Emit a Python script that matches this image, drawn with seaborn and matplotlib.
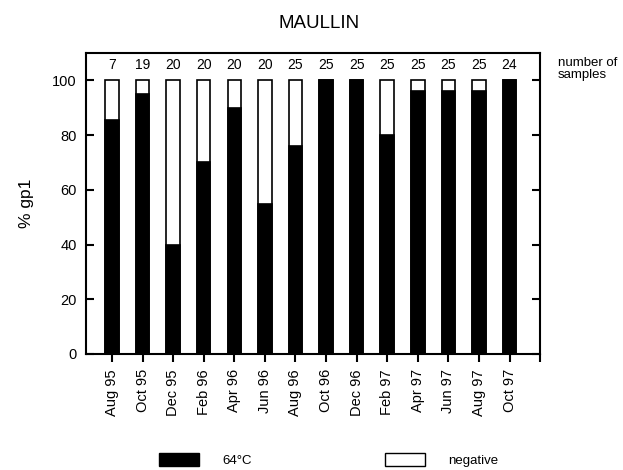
import matplotlib
matplotlib.use("Agg")
import matplotlib.pyplot as plt
import seaborn as sns
import pandas as pd
from matplotlib.patches import Patch

months = ["Aug 95", "Oct 95", "Dec 95", "Feb 96", "Apr 96", "Jun 96", "Aug 96",
          "Oct 96", "Dec 96", "Feb 97", "Apr 97", "Jun 97", "Aug 97", "Oct 97"]
pct_64c = [85.7, 95, 40, 70, 90, 55, 76, 100, 100, 80, 96, 96, 96, 100]
total = [100] * 14
n_samples = [7, 19, 20, 20, 20, 20, 25, 25, 25, 25, 25, 25, 25, 24]

df = pd.DataFrame({"month": months, "pos": pct_64c, "total": total, "n": n_samples})

sns.set_style("white")
plt.rcParams["font.family"] = ["Liberation Sans", "DejaVu Sans"]
plt.rcParams["text.color"] = "black"
plt.rcParams["axes.labelcolor"] = "black"
plt.rcParams["xtick.color"] = "black"
plt.rcParams["ytick.color"] = "black"

fig = plt.figure(figsize=(6.23, 4.70), dpi=100)
ax = fig.add_axes([0.138, 0.247, 0.729, 0.640])

sns.barplot(data=df, x="month", y="total", color="white", edgecolor="black",
            linewidth=1.2, width=0.44, ax=ax, saturation=1)
sns.barplot(data=df, x="month", y="pos", color="black", edgecolor="black",
            linewidth=1.2, width=0.44, ax=ax, saturation=1)

for i, n in enumerate(n_samples):
    ax.text(i, 105.5, str(n), ha="center", va="center", fontsize=10, color="black")

ax.set_xlim(-0.85, 14)
ax.set_ylim(0, 110)
ax.set_xticks(list(range(15)))
ax.set_xticklabels(months + [""], rotation=90, fontsize=10.5)
ax.set_yticks([0, 20, 40, 60, 80, 100])
ax.set_yticklabels(["0", "20", "40", "60", "80", "100"], fontsize=10.5)
ax.tick_params(axis="y", direction="in", left=True, right=True, length=6, width=1.5, pad=6.5)
ax.tick_params(axis="x", direction="out", bottom=True, length=6, width=1.5, pad=5)
ax.set_xlabel("")
ax.set_ylabel("% gp1", fontsize=12.5, labelpad=13)
for s in ax.spines.values():
    s.set_visible(True)
    s.set_linewidth(1.5)
    s.set_color("black")

fig.text(0.512, 0.949, "MAULLIN", ha="center", va="center", fontsize=13.5)
fig.text(0.895, 0.853, "number of\nsamples", ha="left", va="center", fontsize=9.5,
         linespacing=0.95)

handles = [Patch(facecolor="black", edgecolor="black"),
           Patch(facecolor="white", edgecolor="black")]
fig.legend(handles, ["64°C", "negative"], loc="center", bbox_to_anchor=(0.528, 0.021),
           ncol=2, frameon=False, fontsize=9.5, handlelength=3.0, handleheight=1.05,
           handletextpad=1.8, columnspacing=10.1, borderpad=0, borderaxespad=0)

fig.savefig("out.png", dpi=100)
